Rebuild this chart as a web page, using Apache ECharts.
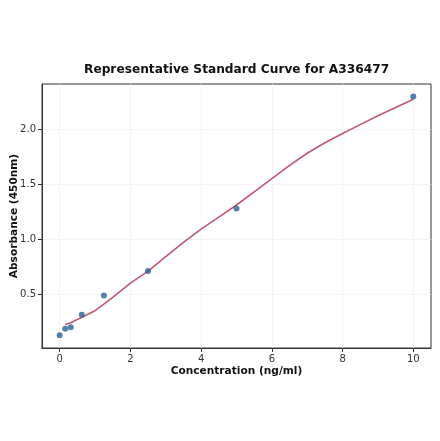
<!DOCTYPE html>
<html>
<head>
    <meta charset="utf-8">
    <title>Standard Curve</title>
    <script src="https://cdn.jsdelivr.net/npm/echarts@6/dist/echarts.min.js"></script>
    <style>
        body { margin: 0; background: #fff; }
        #chart { width: 440px; height: 441px; }
    </style>
</head>
<body>
<div id="chart"></div>
<script>
    // measured standards
    var stdConc = [0, 0.156, 0.3125, 0.625, 1.25, 2.5, 5, 10];
    var stdOD = [0.127, 0.185, 0.199, 0.313, 0.488, 0.711, 1.277, 2.296];

    // fitted curve
    var fitConc = [0.156, 0.3125, 0.625, 1, 1.25, 1.5, 2, 2.5, 3, 3.5, 4, 4.5, 5, 5.5, 6, 6.5, 7, 7.5, 8, 8.5, 9, 9.5, 10];
    var fitOD = [0.222, 0.24, 0.29, 0.35, 0.41, 0.47, 0.6, 0.71, 0.84, 0.97, 1.09, 1.2, 1.31, 1.43, 1.55, 1.67, 1.78, 1.875, 1.96, 2.04, 2.12, 2.195, 2.27];

    var xTicks = [0, 2, 4, 6, 8, 10];
    var yTicks = [0.5, 1.0, 1.5, 2.0];

    var pairs = function (xs, ys) {
        return xs.map(function (x, i) { return [x, ys[i]]; });
    };

    var chart = echarts.init(document.getElementById('chart'));
    var font = 'DejaVu Sans';

    chart.setOption({
        animation: false,
        title: {
            text: 'Representative Standard Curve for A336477',
            left: 79, top: 59,
            textStyle: { fontFamily: font, fontSize: 12.2, fontWeight: 'bold', color: '#111' }
        },
        grid: {
            left: 42, right: 9, top: 84, bottom: 93,
            outerBoundsMode: 'none',
            show: true, borderColor: '#333', borderWidth: 1, backgroundColor: '#fff'
        },
        xAxis: {
            type: 'value', min: -0.5, max: 10.5,
            name: 'Concentration (ng/ml)', nameLocation: 'middle', nameGap: 18, nameMoveOverlap: false,
            nameTextStyle: { fontFamily: font, fontSize: 10.6, fontWeight: 'bold', color: '#111' },
            axisLine: { show: true, onZero: false, lineStyle: { color: '#333', width: 1 } },
            axisTick: { show: true, length: 4, inside: false, customValues: xTicks, lineStyle: { color: '#333' } },
            axisLabel: { customValues: xTicks, fontFamily: font, fontSize: 10, color: '#333', margin: 6,
                formatter: function (v) { return String(v); } },
            splitLine: { show: true, lineStyle: { color: '#f0f0f0', width: 0.8 } }
        },
        yAxis: {
            type: 'value', min: 0.011, max: 2.409,
            name: 'Absorbance (450nm)', nameLocation: 'middle', nameGap: 22, nameMoveOverlap: false,
            nameTextStyle: { fontFamily: font, fontSize: 10.6, fontWeight: 'bold', color: '#111' },
            axisLine: { show: true, onZero: false, lineStyle: { color: '#333', width: 1 } },
            axisTick: { show: true, length: 4, inside: false, customValues: yTicks, lineStyle: { color: '#333' } },
            axisLabel: { customValues: yTicks, fontFamily: font, fontSize: 10, color: '#333', margin: 6,
                formatter: function (v) { return v.toFixed(1); } },
            splitLine: { show: true, lineStyle: { color: '#f0f0f0', width: 0.8 } }
        },
        series: [
            {
                type: 'line',
                data: pairs(fitConc, fitOD),
                smooth: false,
                showSymbol: false,
                lineStyle: { color: '#bf5870', width: 1.6 },
                z: 2
            },
            {
                type: 'scatter',
                data: pairs(stdConc, stdOD),
                symbolSize: 6,
                itemStyle: { color: '#2a6093' },
                z: 3
            }
        ]
    });
</script>
</body>
</html>
